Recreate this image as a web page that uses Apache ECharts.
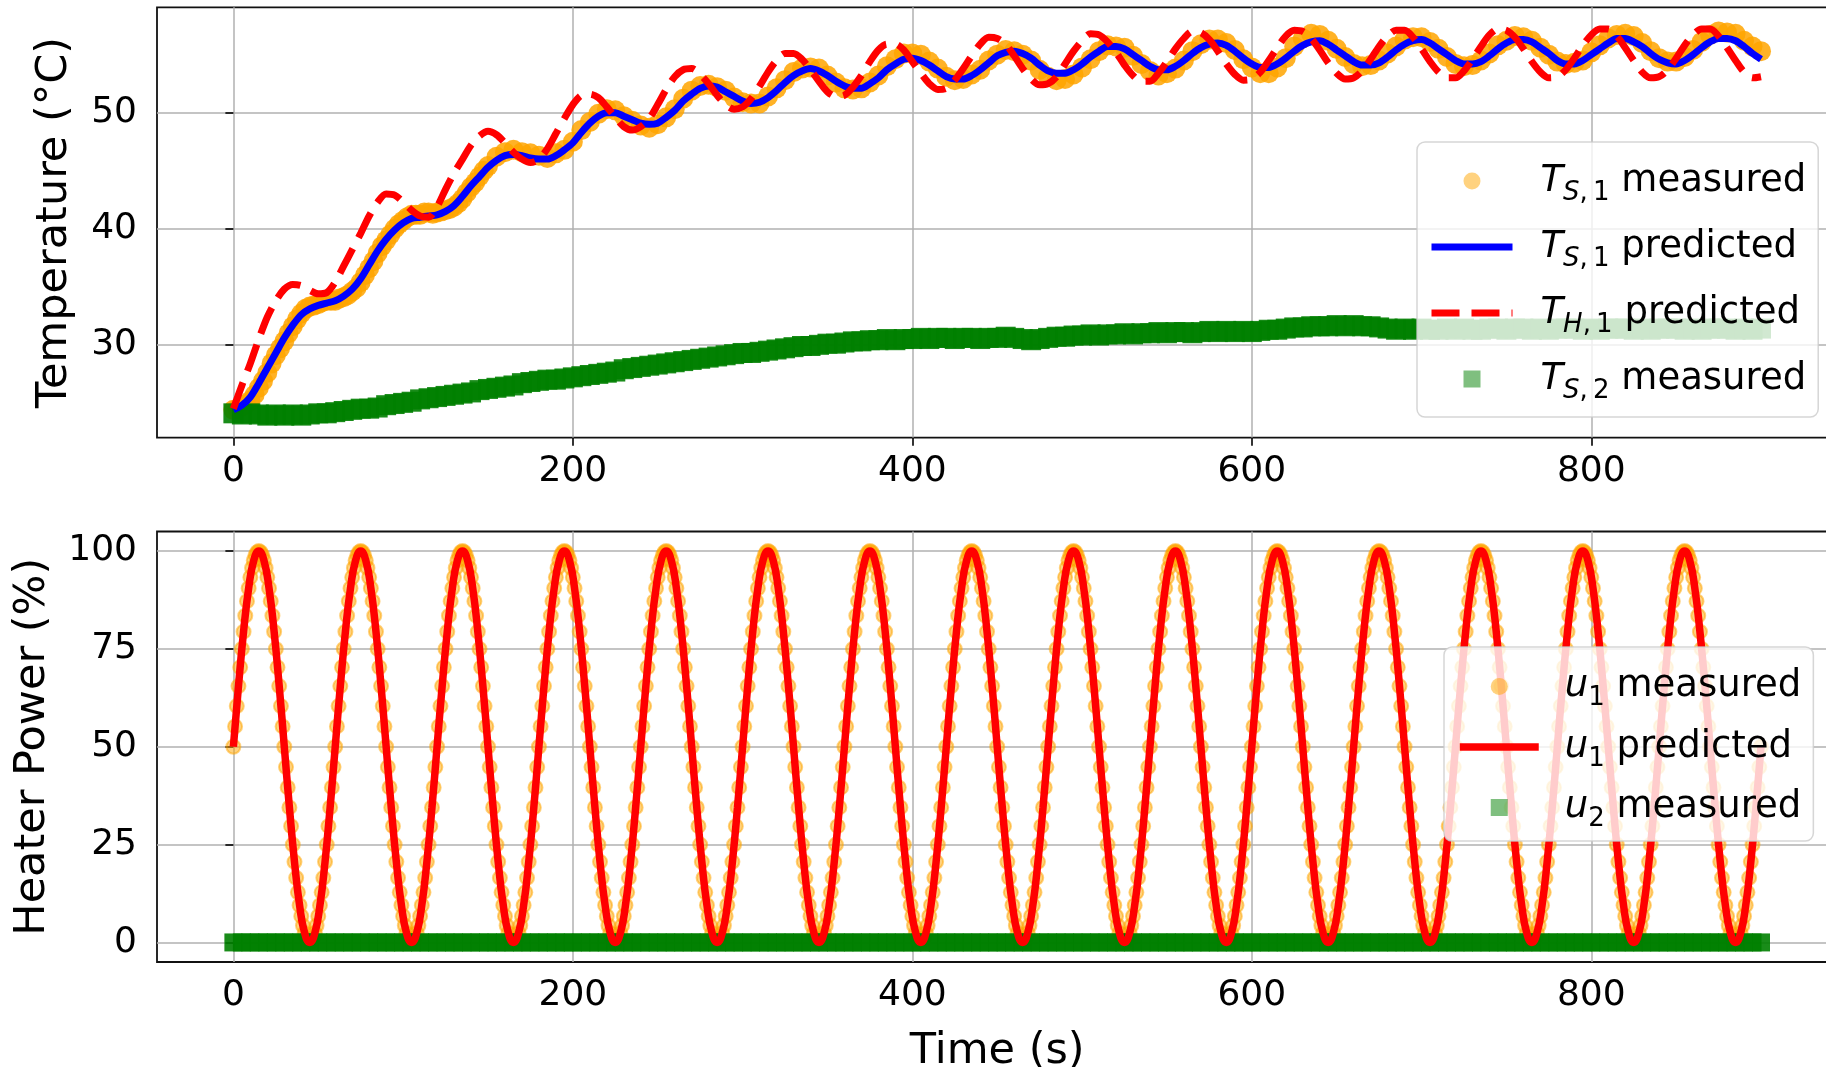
<!DOCTYPE html>
<html><head><meta charset="utf-8">
<script src="https://cdn.jsdelivr.net/npm/echarts@6/dist/echarts.min.js"></script>
<style>html,body{margin:0;padding:0;background:#fff}#c{width:1826px;height:1067px}</style>
</head><body><div id="c"></div>
<script>
// ---------------- data ----------------
const xTicks = [0, 200, 400, 600, 800];
const tempTicks = [30, 40, 50];
const powerTicks = [0, 25, 50, 75, 100];

const time5 = [
0,5,10,15,20,25,30,35,40,45,50,55,
60,65,70,75,80,85,90,95,100,105,110,115,
120,125,130,135,140,145,150,155,160,165,170,175,
180,185,190,195,200,205,210,215,220,225,230,235,
240,245,250,255,260,265,270,275,280,285,290,295,
300,305,310,315,320,325,330,335,340,345,350,355,
360,365,370,375,380,385,390,395,400,405,410,415,
420,425,430,435,440,445,450,455,460,465,470,475,
480,485,490,495,500,505,510,515,520,525,530,535,
540,545,550,555,560,565,570,575,580,585,590,595,
600,605,610,615,620,625,630,635,640,645,650,655,
660,665,670,675,680,685,690,695,700,705,710,715,
720,725,730,735,740,745,750,755,760,765,770,775,
780,785,790,795,800,805,810,815,820,825,830,835,
840,845,850,855,860,865,870,875,880,885,890,895,
900];

const time3 = [
0,3,6,9,12,15,18,21,24,27,30,33,36,39,42,45,48,51,54,57,
60,63,66,69,72,75,78,81,84,87,90,93,96,99,102,105,108,111,114,117,
120,123,126,129,132,135,138,141,144,147,150,153,156,159,162,165,168,171,174,177,
180,183,186,189,192,195,198,201,204,207,210,213,216,219,222,225,228,231,234,237,
240,243,246,249,252,255,258,261,264,267,270,273,276,279,282,285,288,291,294,297,
300,303,306,309,312,315,318,321,324,327,330,333,336,339,342,345,348,351,354,357,
360,363,366,369,372,375,378,381,384,387,390,393,396,399,402,405,408,411,414,417,
420,423,426,429,432,435,438,441,444,447,450,453,456,459,462,465,468,471,474,477,
480,483,486,489,492,495,498,501,504,507,510,513,516,519,522,525,528,531,534,537,
540,543,546,549,552,555,558,561,564,567,570,573,576,579,582,585,588,591,594,597,
600,603,606,609,612,615,618,621,624,627,630,633,636,639,642,645,648,651,654,657,
660,663,666,669,672,675,678,681,684,687,690,693,696,699,702,705,708,711,714,717,
720,723,726,729,732,735,738,741,744,747,750,753,756,759,762,765,768,771,774,777,
780,783,786,789,792,795,798,801,804,807,810,813,816,819,822,825,828,831,834,837,
840,843,846,849,852,855,858,861,864,867,870,873,876,879,882,885,888,891,894,897,
900];

const time1 = [
0,1,2,3,4,5,6,7,8,9,10,11,12,13,14,15,16,17,18,19,20,21,22,23,24,25,26,27,28,29,30,31,32,33,34,35,36,37,38,39,40,41,42,43,44,45,46,47,48,49,50,51,52,53,54,55,56,57,58,59,
60,61,62,63,64,65,66,67,68,69,70,71,72,73,74,75,76,77,78,79,80,81,82,83,84,85,86,87,88,89,90,91,92,93,94,95,96,97,98,99,100,101,102,103,104,105,106,107,108,109,110,111,112,113,114,115,116,117,118,119,
120,121,122,123,124,125,126,127,128,129,130,131,132,133,134,135,136,137,138,139,140,141,142,143,144,145,146,147,148,149,150,151,152,153,154,155,156,157,158,159,160,161,162,163,164,165,166,167,168,169,170,171,172,173,174,175,176,177,178,179,
180,181,182,183,184,185,186,187,188,189,190,191,192,193,194,195,196,197,198,199,200,201,202,203,204,205,206,207,208,209,210,211,212,213,214,215,216,217,218,219,220,221,222,223,224,225,226,227,228,229,230,231,232,233,234,235,236,237,238,239,
240,241,242,243,244,245,246,247,248,249,250,251,252,253,254,255,256,257,258,259,260,261,262,263,264,265,266,267,268,269,270,271,272,273,274,275,276,277,278,279,280,281,282,283,284,285,286,287,288,289,290,291,292,293,294,295,296,297,298,299,
300,301,302,303,304,305,306,307,308,309,310,311,312,313,314,315,316,317,318,319,320,321,322,323,324,325,326,327,328,329,330,331,332,333,334,335,336,337,338,339,340,341,342,343,344,345,346,347,348,349,350,351,352,353,354,355,356,357,358,359,
360,361,362,363,364,365,366,367,368,369,370,371,372,373,374,375,376,377,378,379,380,381,382,383,384,385,386,387,388,389,390,391,392,393,394,395,396,397,398,399,400,401,402,403,404,405,406,407,408,409,410,411,412,413,414,415,416,417,418,419,
420,421,422,423,424,425,426,427,428,429,430,431,432,433,434,435,436,437,438,439,440,441,442,443,444,445,446,447,448,449,450,451,452,453,454,455,456,457,458,459,460,461,462,463,464,465,466,467,468,469,470,471,472,473,474,475,476,477,478,479,
480,481,482,483,484,485,486,487,488,489,490,491,492,493,494,495,496,497,498,499,500,501,502,503,504,505,506,507,508,509,510,511,512,513,514,515,516,517,518,519,520,521,522,523,524,525,526,527,528,529,530,531,532,533,534,535,536,537,538,539,
540,541,542,543,544,545,546,547,548,549,550,551,552,553,554,555,556,557,558,559,560,561,562,563,564,565,566,567,568,569,570,571,572,573,574,575,576,577,578,579,580,581,582,583,584,585,586,587,588,589,590,591,592,593,594,595,596,597,598,599,
600,601,602,603,604,605,606,607,608,609,610,611,612,613,614,615,616,617,618,619,620,621,622,623,624,625,626,627,628,629,630,631,632,633,634,635,636,637,638,639,640,641,642,643,644,645,646,647,648,649,650,651,652,653,654,655,656,657,658,659,
660,661,662,663,664,665,666,667,668,669,670,671,672,673,674,675,676,677,678,679,680,681,682,683,684,685,686,687,688,689,690,691,692,693,694,695,696,697,698,699,700,701,702,703,704,705,706,707,708,709,710,711,712,713,714,715,716,717,718,719,
720,721,722,723,724,725,726,727,728,729,730,731,732,733,734,735,736,737,738,739,740,741,742,743,744,745,746,747,748,749,750,751,752,753,754,755,756,757,758,759,760,761,762,763,764,765,766,767,768,769,770,771,772,773,774,775,776,777,778,779,
780,781,782,783,784,785,786,787,788,789,790,791,792,793,794,795,796,797,798,799,800,801,802,803,804,805,806,807,808,809,810,811,812,813,814,815,816,817,818,819,820,821,822,823,824,825,826,827,828,829,830,831,832,833,834,835,836,837,838,839,
840,841,842,843,844,845,846,847,848,849,850,851,852,853,854,855,856,857,858,859,860,861,862,863,864,865,866,867,868,869,870,871,872,873,874,875,876,877,878,879,880,881,882,883,884,885,886,887,888,889,890,891,892,893,894,895,896,897,898,899,
900];

const tMeasTS1 = [
0,2.5,5,7.5,10,12.5,15,17.5,20,22.5,25,27.5,30,32.5,35,37.5,40,42.5,45,47.5,50,52.5,55,57.5,
60,62.5,65,67.5,70,72.5,75,77.5,80,82.5,85,87.5,90,92.5,95,97.5,100,102.5,105,107.5,110,112.5,115,117.5,
120,122.5,125,127.5,130,132.5,135,137.5,140,142.5,145,147.5,150,
155,160,165,170,175,180,185,190,195,200,205,210,
215,220,225,230,235,240,245,250,255,260,265,270,
275,280,285,290,295,300,305,310,315,320,325,330,
335,340,345,350,355,360,365,370,375,380,385,390,
395,400,405,410,415,420,425,430,435,440,445,450,
455,460,465,470,475,480,485,490,495,500,505,510,
515,520,525,530,535,540,545,550,555,560,565,570,
575,580,585,590,595,600,605,610,615,620,625,630,
635,640,645,650,655,660,665,670,675,680,685,690,
695,700,705,710,715,720,725,730,735,740,745,750,
755,760,765,770,775,780,785,790,795,800,805,810,
815,820,825,830,835,840,845,850,855,860,865,870,
875,880,885,890,895,900];

// T_S,1 measured (°C)
const ts1Measured = [
24.4,24.5,24.7,24.9,25.2,25.7,26.3,26.9,27.6,28.4,29.1,29.7,30.3,31.0,31.6,32.2,32.7,33.1,33.3,33.4,33.5,33.7,33.8,33.8,
33.8,34.0,34.1,34.3,34.6,34.9,35.4,36.0,36.6,37.2,37.9,38.5,39.0,39.5,40.0,40.4,40.7,41.0,41.2,41.2,41.2,41.4,41.4,41.3,
41.4,41.5,41.6,41.7,41.9,42.2,42.6,43.1,43.6,44.0,44.5,45.0,45.4,
46.2,46.6,46.8,46.6,46.5,46.3,46.1,46.5,46.8,47.5,48.5,49.2,
49.9,50.3,50.2,49.7,49.3,48.9,48.7,49.0,49.6,50.3,51.2,51.9,
52.3,52.4,52.2,51.9,51.3,50.9,50.8,50.8,51.4,52.1,52.8,53.5,
53.8,53.9,53.8,53.2,52.6,52.1,52.0,52.1,52.6,53.2,54.0,54.6,
55.1,55.1,55.0,54.4,53.8,53.1,52.8,52.9,53.3,53.7,54.5,55.0,
55.4,55.3,55.0,54.5,53.7,53.1,52.8,52.9,53.3,53.9,54.6,55.3,
55.8,55.7,55.6,54.9,54.2,53.6,53.2,53.4,53.8,54.5,55.3,55.9,
56.3,56.3,56.0,55.4,54.6,53.9,53.4,53.4,53.9,54.7,55.7,56.4,
56.8,56.7,56.2,55.5,54.8,54.2,54.0,54.1,54.5,55.1,55.7,56.3,
56.5,56.5,56.1,55.5,54.8,54.2,54.0,54.1,54.5,55.1,55.8,56.2,
56.6,56.5,56.2,55.6,55.0,54.4,54.2,54.3,54.5,55.2,55.8,56.4,
56.7,56.8,56.6,56.0,55.3,54.7,54.4,54.4,54.8,55.4,56.1,56.7,
57.0,56.9,56.8,56.2,55.7,55.3];

// T_S,1 predicted (°C), every 5 s
const ts1Predicted = [
24.4,24.8,25.5,26.7,28.0,29.3,30.6,31.7,32.6,33.1,33.4,33.6,
33.8,34.2,34.8,35.7,36.9,38.1,39.1,39.9,40.5,40.9,41.0,41.1,
41.2,41.5,42.0,42.8,43.7,44.5,45.3,45.9,46.3,46.4,46.3,46.1,
46.0,46.0,46.3,46.8,47.4,48.3,49.1,49.7,50.0,50.0,49.7,49.4,
49.1,49.0,49.1,49.6,50.2,51.0,51.6,52.1,52.3,52.2,51.8,51.4,
51.0,50.8,50.9,51.3,51.9,52.6,53.2,53.6,53.8,53.6,53.2,52.7,
52.3,52.1,52.1,52.5,53.0,53.7,54.2,54.6,54.7,54.5,54.1,53.6,
53.1,52.9,52.9,53.2,53.7,54.3,54.9,55.2,55.3,55.1,54.7,54.1,
53.6,53.4,53.4,53.7,54.2,54.8,55.3,55.7,55.7,55.5,55.0,54.5,
54.0,53.7,53.7,54.0,54.5,55.1,55.6,55.9,56.0,55.8,55.3,54.7,
54.2,53.9,53.9,54.2,54.7,55.3,55.8,56.1,56.2,55.9,55.4,54.9,
54.4,54.1,54.1,54.3,54.8,55.4,55.9,56.2,56.3,56.0,55.5,55.0,
54.5,54.2,54.2,54.4,54.9,55.5,56.0,56.3,56.3,56.1,55.6,55.1,
54.5,54.2,54.2,54.5,55.0,55.5,56.0,56.4,56.4,56.1,55.7,55.1,
54.6,54.3,54.2,54.5,55.0,55.6,56.1,56.4,56.4,56.2,55.7,55.1,
54.6];

// T_H,1 predicted (°C), every 5 s
const th1Predicted = [
24.5,26.5,28.4,30.5,32.4,33.8,34.8,35.2,35.1,34.7,34.4,34.5,
35.4,36.8,38.2,39.6,41.1,42.3,43.0,42.9,42.3,41.6,41.1,41.0,
41.9,43.4,44.8,46.0,47.2,48.0,48.4,48.1,47.4,46.6,46.0,45.7,
46.0,46.9,48.2,49.5,50.7,51.5,51.6,51.3,50.5,49.6,48.8,48.5,
48.8,49.5,50.7,52.0,53.1,53.7,53.8,53.3,52.5,51.5,50.7,50.3,
50.5,51.2,52.3,53.5,54.5,55.1,55.1,54.6,53.7,52.7,51.8,51.4,
51.5,52.2,53.2,54.4,55.4,55.9,55.9,55.4,54.4,53.4,52.5,52.0,
52.1,52.8,53.8,54.9,55.9,56.5,56.4,55.9,54.9,53.8,52.9,52.4,
52.5,53.1,54.2,55.3,56.2,56.8,56.7,56.1,55.2,54.1,53.2,52.7,
52.7,53.4,54.4,55.5,56.4,57.0,56.9,56.3,55.3,54.2,53.3,52.8,
52.9,53.5,54.5,55.6,56.6,57.1,57.0,56.4,55.4,54.3,53.4,52.9,
53.0,53.6,54.6,55.7,56.6,57.1,57.1,56.5,55.5,54.4,53.5,53.0,
53.0,53.6,54.6,55.7,56.7,57.2,57.1,56.5,55.5,54.4,53.5,53.0,
53.1,53.7,54.7,55.8,56.7,57.2,57.2,56.6,55.6,54.5,53.5,53.0,
53.1,53.7,54.7,55.8,56.7,57.2,57.2,56.6,55.6,54.5,53.5,53.0,
53.1];

// T_S,2 measured (°C), every 5 s
const ts2Measured = [
24.1,24.0,24.1,24.0,23.9,24.0,23.9,24.0,23.9,24.0,24.1,24.1,
24.2,24.3,24.4,24.5,24.5,24.6,24.8,24.9,25.0,25.1,25.3,25.4,
25.5,25.6,25.7,25.8,25.9,26.1,26.2,26.3,26.4,26.5,26.7,26.8,
26.9,27.0,27.0,27.1,27.2,27.3,27.4,27.5,27.6,27.7,27.9,28.0,
28.1,28.2,28.3,28.4,28.5,28.6,28.7,28.8,28.9,29.0,29.1,29.2,
29.3,29.3,29.4,29.5,29.6,29.7,29.8,29.9,29.9,30.0,30.1,30.1,
30.2,30.3,30.3,30.4,30.4,30.5,30.4,30.5,30.5,30.6,30.5,30.6,
30.6,30.5,30.6,30.6,30.5,30.6,30.6,30.7,30.6,30.5,30.4,30.5,
30.6,30.7,30.7,30.8,30.8,30.9,30.8,30.9,30.9,31.0,30.9,31.0,
31.0,31.1,31.0,31.1,31.1,31.0,31.1,31.2,31.1,31.2,31.1,31.2,
31.1,31.2,31.3,31.3,31.4,31.5,31.5,31.6,31.6,31.6,31.7,31.6,
31.7,31.6,31.6,31.5,31.4,31.3,31.4,31.3,31.4,31.3,31.3,31.4,
31.3,31.4,31.3,31.3,31.4,31.4,31.3,31.4,31.4,31.3,31.4,31.3,
31.4,31.4,31.4,31.3,31.4,31.3,31.4,31.4,31.4,31.3,31.4,31.3,
31.4,31.4,31.4,31.3,31.4,31.3,31.4,31.4,31.4,31.3,31.4,31.3,
31.4];

// u1 measured (%), every 1 s
const u1Measured = [
50,55.2,60.4,65.5,70.3,75,79.4,83.5,87.2,90.5,93.3,95.7,97.6,98.9,99.7,100,99.7,98.9,97.6,95.7,93.3,90.5,87.2,83.5,79.4,75,70.3,65.5,60.4,55.2,50,44.8,39.6,34.5,29.7,25,20.6,16.5,12.8,9.5,6.7,4.3,2.4,1.1,0.3,0,0.3,1.1,2.4,4.3,6.7,9.5,12.8,16.5,20.6,25,29.7,34.5,39.6,44.8,
50,55.2,60.4,65.5,70.3,75,79.4,83.5,87.2,90.5,93.3,95.7,97.6,98.9,99.7,100,99.7,98.9,97.6,95.7,93.3,90.5,87.2,83.5,79.4,75,70.3,65.5,60.4,55.2,50,44.8,39.6,34.5,29.7,25,20.6,16.5,12.8,9.5,6.7,4.3,2.4,1.1,0.3,0,0.3,1.1,2.4,4.3,6.7,9.5,12.8,16.5,20.6,25,29.7,34.5,39.6,44.8,
50,55.2,60.4,65.5,70.3,75,79.4,83.5,87.2,90.5,93.3,95.7,97.6,98.9,99.7,100,99.7,98.9,97.6,95.7,93.3,90.5,87.2,83.5,79.4,75,70.3,65.5,60.4,55.2,50,44.8,39.6,34.5,29.7,25,20.6,16.5,12.8,9.5,6.7,4.3,2.4,1.1,0.3,0,0.3,1.1,2.4,4.3,6.7,9.5,12.8,16.5,20.6,25,29.7,34.5,39.6,44.8,
50,55.2,60.4,65.5,70.3,75,79.4,83.5,87.2,90.5,93.3,95.7,97.6,98.9,99.7,100,99.7,98.9,97.6,95.7,93.3,90.5,87.2,83.5,79.4,75,70.3,65.5,60.4,55.2,50,44.8,39.6,34.5,29.7,25,20.6,16.5,12.8,9.5,6.7,4.3,2.4,1.1,0.3,0,0.3,1.1,2.4,4.3,6.7,9.5,12.8,16.5,20.6,25,29.7,34.5,39.6,44.8,
50,55.2,60.4,65.5,70.3,75,79.4,83.5,87.2,90.5,93.3,95.7,97.6,98.9,99.7,100,99.7,98.9,97.6,95.7,93.3,90.5,87.2,83.5,79.4,75,70.3,65.5,60.4,55.2,50,44.8,39.6,34.5,29.7,25,20.6,16.5,12.8,9.5,6.7,4.3,2.4,1.1,0.3,0,0.3,1.1,2.4,4.3,6.7,9.5,12.8,16.5,20.6,25,29.7,34.5,39.6,44.8,
50,55.2,60.4,65.5,70.3,75,79.4,83.5,87.2,90.5,93.3,95.7,97.6,98.9,99.7,100,99.7,98.9,97.6,95.7,93.3,90.5,87.2,83.5,79.4,75,70.3,65.5,60.4,55.2,50,44.8,39.6,34.5,29.7,25,20.6,16.5,12.8,9.5,6.7,4.3,2.4,1.1,0.3,0,0.3,1.1,2.4,4.3,6.7,9.5,12.8,16.5,20.6,25,29.7,34.5,39.6,44.8,
50,55.2,60.4,65.5,70.3,75,79.4,83.5,87.2,90.5,93.3,95.7,97.6,98.9,99.7,100,99.7,98.9,97.6,95.7,93.3,90.5,87.2,83.5,79.4,75,70.3,65.5,60.4,55.2,50,44.8,39.6,34.5,29.7,25,20.6,16.5,12.8,9.5,6.7,4.3,2.4,1.1,0.3,0,0.3,1.1,2.4,4.3,6.7,9.5,12.8,16.5,20.6,25,29.7,34.5,39.6,44.8,
50,55.2,60.4,65.5,70.3,75,79.4,83.5,87.2,90.5,93.3,95.7,97.6,98.9,99.7,100,99.7,98.9,97.6,95.7,93.3,90.5,87.2,83.5,79.4,75,70.3,65.5,60.4,55.2,50,44.8,39.6,34.5,29.7,25,20.6,16.5,12.8,9.5,6.7,4.3,2.4,1.1,0.3,0,0.3,1.1,2.4,4.3,6.7,9.5,12.8,16.5,20.6,25,29.7,34.5,39.6,44.8,
50,55.2,60.4,65.5,70.3,75,79.4,83.5,87.2,90.5,93.3,95.7,97.6,98.9,99.7,100,99.7,98.9,97.6,95.7,93.3,90.5,87.2,83.5,79.4,75,70.3,65.5,60.4,55.2,50,44.8,39.6,34.5,29.7,25,20.6,16.5,12.8,9.5,6.7,4.3,2.4,1.1,0.3,0,0.3,1.1,2.4,4.3,6.7,9.5,12.8,16.5,20.6,25,29.7,34.5,39.6,44.8,
50,55.2,60.4,65.5,70.3,75,79.4,83.5,87.2,90.5,93.3,95.7,97.6,98.9,99.7,100,99.7,98.9,97.6,95.7,93.3,90.5,87.2,83.5,79.4,75,70.3,65.5,60.4,55.2,50,44.8,39.6,34.5,29.7,25,20.6,16.5,12.8,9.5,6.7,4.3,2.4,1.1,0.3,0,0.3,1.1,2.4,4.3,6.7,9.5,12.8,16.5,20.6,25,29.7,34.5,39.6,44.8,
50,55.2,60.4,65.5,70.3,75,79.4,83.5,87.2,90.5,93.3,95.7,97.6,98.9,99.7,100,99.7,98.9,97.6,95.7,93.3,90.5,87.2,83.5,79.4,75,70.3,65.5,60.4,55.2,50,44.8,39.6,34.5,29.7,25,20.6,16.5,12.8,9.5,6.7,4.3,2.4,1.1,0.3,0,0.3,1.1,2.4,4.3,6.7,9.5,12.8,16.5,20.6,25,29.7,34.5,39.6,44.8,
50,55.2,60.4,65.5,70.3,75,79.4,83.5,87.2,90.5,93.3,95.7,97.6,98.9,99.7,100,99.7,98.9,97.6,95.7,93.3,90.5,87.2,83.5,79.4,75,70.3,65.5,60.4,55.2,50,44.8,39.6,34.5,29.7,25,20.6,16.5,12.8,9.5,6.7,4.3,2.4,1.1,0.3,0,0.3,1.1,2.4,4.3,6.7,9.5,12.8,16.5,20.6,25,29.7,34.5,39.6,44.8,
50,55.2,60.4,65.5,70.3,75,79.4,83.5,87.2,90.5,93.3,95.7,97.6,98.9,99.7,100,99.7,98.9,97.6,95.7,93.3,90.5,87.2,83.5,79.4,75,70.3,65.5,60.4,55.2,50,44.8,39.6,34.5,29.7,25,20.6,16.5,12.8,9.5,6.7,4.3,2.4,1.1,0.3,0,0.3,1.1,2.4,4.3,6.7,9.5,12.8,16.5,20.6,25,29.7,34.5,39.6,44.8,
50,55.2,60.4,65.5,70.3,75,79.4,83.5,87.2,90.5,93.3,95.7,97.6,98.9,99.7,100,99.7,98.9,97.6,95.7,93.3,90.5,87.2,83.5,79.4,75,70.3,65.5,60.4,55.2,50,44.8,39.6,34.5,29.7,25,20.6,16.5,12.8,9.5,6.7,4.3,2.4,1.1,0.3,0,0.3,1.1,2.4,4.3,6.7,9.5,12.8,16.5,20.6,25,29.7,34.5,39.6,44.8,
50,55.2,60.4,65.5,70.3,75,79.4,83.5,87.2,90.5,93.3,95.7,97.6,98.9,99.7,100,99.7,98.9,97.6,95.7,93.3,90.5,87.2,83.5,79.4,75,70.3,65.5,60.4,55.2,50,44.8,39.6,34.5,29.7,25,20.6,16.5,12.8,9.5,6.7,4.3,2.4,1.1,0.3,0,0.3,1.1,2.4,4.3,6.7,9.5,12.8,16.5,20.6,25,29.7,34.5,39.6,44.8,
50];

// u1 predicted (%), every 3 s
const u1Predicted = [
50,65.5,79.4,90.5,97.6,100,97.6,90.5,79.4,65.5,50,34.5,20.6,9.5,2.4,0,2.4,9.5,20.6,34.5,
50,65.5,79.4,90.5,97.6,100,97.6,90.5,79.4,65.5,50,34.5,20.6,9.5,2.4,0,2.4,9.5,20.6,34.5,
50,65.5,79.4,90.5,97.6,100,97.6,90.5,79.4,65.5,50,34.5,20.6,9.5,2.4,0,2.4,9.5,20.6,34.5,
50,65.5,79.4,90.5,97.6,100,97.6,90.5,79.4,65.5,50,34.5,20.6,9.5,2.4,0,2.4,9.5,20.6,34.5,
50,65.5,79.4,90.5,97.6,100,97.6,90.5,79.4,65.5,50,34.5,20.6,9.5,2.4,0,2.4,9.5,20.6,34.5,
50,65.5,79.4,90.5,97.6,100,97.6,90.5,79.4,65.5,50,34.5,20.6,9.5,2.4,0,2.4,9.5,20.6,34.5,
50,65.5,79.4,90.5,97.6,100,97.6,90.5,79.4,65.5,50,34.5,20.6,9.5,2.4,0,2.4,9.5,20.6,34.5,
50,65.5,79.4,90.5,97.6,100,97.6,90.5,79.4,65.5,50,34.5,20.6,9.5,2.4,0,2.4,9.5,20.6,34.5,
50,65.5,79.4,90.5,97.6,100,97.6,90.5,79.4,65.5,50,34.5,20.6,9.5,2.4,0,2.4,9.5,20.6,34.5,
50,65.5,79.4,90.5,97.6,100,97.6,90.5,79.4,65.5,50,34.5,20.6,9.5,2.4,0,2.4,9.5,20.6,34.5,
50,65.5,79.4,90.5,97.6,100,97.6,90.5,79.4,65.5,50,34.5,20.6,9.5,2.4,0,2.4,9.5,20.6,34.5,
50,65.5,79.4,90.5,97.6,100,97.6,90.5,79.4,65.5,50,34.5,20.6,9.5,2.4,0,2.4,9.5,20.6,34.5,
50,65.5,79.4,90.5,97.6,100,97.6,90.5,79.4,65.5,50,34.5,20.6,9.5,2.4,0,2.4,9.5,20.6,34.5,
50,65.5,79.4,90.5,97.6,100,97.6,90.5,79.4,65.5,50,34.5,20.6,9.5,2.4,0,2.4,9.5,20.6,34.5,
50,65.5,79.4,90.5,97.6,100,97.6,90.5,79.4,65.5,50,34.5,20.6,9.5,2.4,0,2.4,9.5,20.6,34.5,
50];

// u2 measured (%), every 5 s
const u2Measured = [
0,0,0,0,0,0,0,0,0,0,0,0,
0,0,0,0,0,0,0,0,0,0,0,0,
0,0,0,0,0,0,0,0,0,0,0,0,
0,0,0,0,0,0,0,0,0,0,0,0,
0,0,0,0,0,0,0,0,0,0,0,0,
0,0,0,0,0,0,0,0,0,0,0,0,
0,0,0,0,0,0,0,0,0,0,0,0,
0,0,0,0,0,0,0,0,0,0,0,0,
0,0,0,0,0,0,0,0,0,0,0,0,
0,0,0,0,0,0,0,0,0,0,0,0,
0,0,0,0,0,0,0,0,0,0,0,0,
0,0,0,0,0,0,0,0,0,0,0,0,
0,0,0,0,0,0,0,0,0,0,0,0,
0,0,0,0,0,0,0,0,0,0,0,0,
0,0,0,0,0,0,0,0,0,0,0,0,
0];

// ---------------- chart ----------------
const FONT = 'DejaVu Sans';
const pairs = (t, v) => { const n = Math.min(t.length, v.length); const out = []; for (let i = 0; i < n; i++) out.push([t[i], v[i]]); return out; };

const ORANGE = '#FFA500', BLUE = '#0000FF', RED = '#FF0000', GREEN = '#008000';
const SQUARE = 'path://M0,0L10,0L10,10L0,10Z';

function xAxisCfg(gridIndex, withName) {
  const a = {
    type: 'value', gridIndex, min: -45, max: 945,
    axisLine: { show: false },
    axisTick: { show: true, inside: false, length: 8, lineStyle: { color: '#000', width: 1.6 }, customValues: xTicks },
    axisLabel: { customValues: xTicks, fontFamily: FONT, fontSize: 36, color: '#000', margin: 14, lineHeight: 40 },
    splitLine: { show: true, lineStyle: { color: '#b0b0b0', width: 1.5 } }
  };
  if (withName) {
    a.name = 'Time (s)'; a.nameLocation = 'middle'; a.nameGap = 65;
    a.nameTextStyle = { fontFamily: FONT, fontSize: 43, color: '#000', lineHeight: 50 };
  }
  return a;
}
function yAxisCfg(gridIndex, min, max, ticks, name, gap) {
  return {
    type: 'value', gridIndex, min, max,
    axisLine: { show: false },
    axisTick: { show: true, inside: false, length: 8, lineStyle: { color: '#000', width: 1.6 }, customValues: ticks },
    axisLabel: { customValues: ticks, fontFamily: FONT, fontSize: 36, color: '#000', margin: 20 },
    splitLine: { show: true, lineStyle: { color: '#b0b0b0', width: 1.5 } },
    name, nameLocation: 'middle', nameGap: gap,
    nameTextStyle: { fontFamily: FONT, fontSize: 43, color: '#000', lineHeight: 50 }
  };
}

function richStyles(lead) {
  return {
    it: { fontFamily: FONT, fontStyle: 'italic', fontSize: 37, lineHeight: 50, verticalAlign: 'middle', color: '#000', padding: [0, 0, 0, lead] },
    si: { fontFamily: FONT, fontStyle: 'italic', fontSize: 26, lineHeight: 30, verticalAlign: 'bottom', color: '#000' },
    sn: { fontFamily: FONT, fontSize: 26, lineHeight: 30, verticalAlign: 'bottom', color: '#000' },
    n: { fontFamily: FONT, fontSize: 37, lineHeight: 50, verticalAlign: 'middle', color: '#000' }
  };
}
const legendText = {
  'Ts1m': '{it|T}{si|S}{sn|,\u20091}{n| measured}',
  'Ts1p': '{it|T}{si|S}{sn|,\u20091}{n| predicted}',
  'Th1p': '{it|T}{si|H}{sn|,\u20091}{n| predicted}',
  'Ts2m': '{it|T}{si|S}{sn|,\u20092}{n| measured}',
  'u1m': '{it|u}{sn|1}{n| measured}',
  'u1p': '{it|u}{sn|1}{n| predicted}',
  'u2m': '{it|u}{sn|2}{n| measured}'
};
const legendBase = {
  orient: 'vertical', selectedMode: false, z: 10, symbolKeepAspect: true,
  backgroundColor: 'rgba(255,255,255,0.8)', borderColor: 'rgba(204,204,204,0.8)', borderWidth: 1.5, borderRadius: 8,
  itemHeight: 17,
  formatter: (name) => legendText[name]
};

const option = {
  animation: false,
  backgroundColor: '#ffffff',
  grid: [
    { left: 157, top: 7.3, width: 1680.4, height: 430.4, show: true, borderColor: '#111', borderWidth: 1.8, backgroundColor: 'transparent', containLabel: false, outerBoundsMode: 'none' },
    { left: 157, top: 531.5, width: 1680.4, height: 430.5, show: true, borderColor: '#111', borderWidth: 1.8, backgroundColor: 'transparent', containLabel: false, outerBoundsMode: 'none' }
  ],
  xAxis: [xAxisCfg(0, false), xAxisCfg(1, true)],
  yAxis: [
    yAxisCfg(0, 22.0, 59.08, tempTicks, 'Temperature (°C)', 77),
    yAxisCfg(1, -5, 105, powerTicks, 'Heater Power (%)', 98)
  ],
  legend: [
    Object.assign({}, legendBase, {
      left: 1417, top: 142, padding: [14, 12, 13, 11], itemWidth: 81, itemGap: 16,
      textStyle: { fontFamily: FONT, fontSize: 37, lineHeight: 50, color: '#000', rich: richStyles(23) },
      data: [
        { name: 'Ts1m', icon: 'circle', itemStyle: { color: ORANGE, opacity: 0.5, borderWidth: 0 } },
        { name: 'Ts1p', itemStyle: { opacity: 0 }, lineStyle: { color: BLUE, width: 7, type: 'solid', opacity: 1 } },
        { name: 'Th1p', itemStyle: { opacity: 0 }, lineStyle: { color: RED, width: 7, type: [28, 12], opacity: 1 } },
        { name: 'Ts2m', icon: SQUARE, itemStyle: { color: GREEN, opacity: 0.5, borderWidth: 0 } }
      ]
    }),
    Object.assign({}, legendBase, {
      left: 1444, top: 647, padding: [14.5, 12, 8.5, 12], itemWidth: 79, itemGap: 10.5,
      textStyle: { fontFamily: FONT, fontSize: 37, lineHeight: 50, color: '#000', rich: richStyles(21) },
      data: [
        { name: 'u1m', icon: 'circle', itemStyle: { color: ORANGE, opacity: 0.5, borderWidth: 0 } },
        { name: 'u1p', itemStyle: { opacity: 0 }, lineStyle: { color: RED, width: 7.5, type: 'solid', opacity: 1 } },
        { name: 'u2m', icon: SQUARE, itemStyle: { color: GREEN, opacity: 0.5, borderWidth: 0 } }
      ]
    })
  ],
  series: [
    { name: 'Ts1m', type: 'scatter', xAxisIndex: 0, yAxisIndex: 0, z: 2, symbol: 'circle', symbolSize: 20,
      itemStyle: { color: ORANGE, opacity: 0.85 }, data: pairs(tMeasTS1, ts1Measured) },
    { name: 'Ts2m', type: 'scatter', xAxisIndex: 0, yAxisIndex: 0, z: 2, symbol: 'rect', symbolSize: 20,
      itemStyle: { color: GREEN, opacity: 0.9 }, data: pairs(time5, ts2Measured) },
    { name: 'Ts1p', type: 'line', xAxisIndex: 0, yAxisIndex: 0, z: 3, symbol: 'none', showSymbol: false, smooth: 0.3,
      color: BLUE, lineStyle: { color: BLUE, width: 7 }, data: pairs(time5, ts1Predicted) },
    { name: 'Th1p', type: 'line', xAxisIndex: 0, yAxisIndex: 0, z: 4, symbol: 'none', showSymbol: false, smooth: 0.3,
      color: RED, lineStyle: { color: RED, width: 7, type: [28, 12] }, data: pairs(time5, th1Predicted) },

    { name: 'u1m', type: 'scatter', xAxisIndex: 1, yAxisIndex: 1, z: 2, symbol: 'circle', symbolSize: 14,
      itemStyle: { color: ORANGE, opacity: 0.5, borderColor: ORANGE, borderWidth: 2 }, data: pairs(time1, u1Measured) },
    { name: 'u2m', type: 'scatter', xAxisIndex: 1, yAxisIndex: 1, z: 2, symbol: 'rect', symbolSize: 18,
      itemStyle: { color: GREEN, opacity: 0.9 }, data: pairs(time5, u2Measured) },
    { name: 'u1p', type: 'line', xAxisIndex: 1, yAxisIndex: 1, z: 3, symbol: 'none', showSymbol: false, smooth: true,
      color: RED, lineStyle: { color: RED, width: 7.5 }, data: pairs(time3, u1Predicted) }
  ]
};

const chart = echarts.init(document.getElementById('c'), null, { renderer: 'canvas', width: 1826, height: 1067 });
chart.setOption(option);
</script>
</body></html>
